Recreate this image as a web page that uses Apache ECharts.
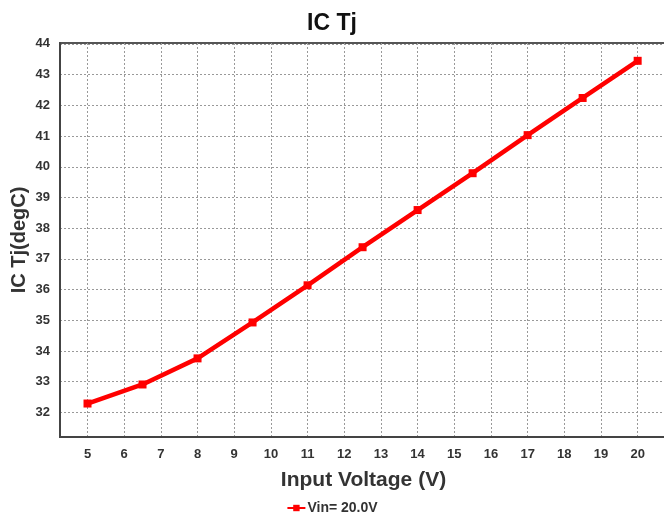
<!DOCTYPE html>
<html><head><meta charset="utf-8">
<script src="https://cdn.jsdelivr.net/npm/echarts@6/dist/echarts.min.js"></script>
<style>html,body{margin:0;padding:0;background:#fff}#c{width:664px;height:513px}</style>
</head><body><div id="c"></div>
<script>
const xValues = [5, 6.5, 8, 9.5, 11, 12.5, 14, 15.5, 17, 18.5, 20];
const tjValues = [32.29, 32.91, 33.76, 34.93, 36.14, 37.38, 38.59, 39.79, 41.03, 42.24, 43.45];
const xTicks = [5,6,7,8,9,10,11,12,13,14,15,16,17,18,19,20];
const yTicks = [32,33,34,35,36,37,38,39,40,41,42,43,44];
const seriesName = 'Vin= 20.0V';

const chart = echarts.init(document.getElementById('c'));
const font = 'Liberation Sans, Arial, sans-serif';
chart.setOption({
  animation: false,
  title: { text: 'IC Tj', left: 'center', top: 7,
    textStyle: { fontFamily: font, fontSize: 23, fontWeight: 'bold', color: '#111' } },
  grid: { left: 60, right: -3, top: 43, bottom: 76, outerBoundsMode: 'none', containLabel: false,
    show: true, borderColor: '#555', borderWidth: 2 },
  legend: { top: 496, left: 'center', itemWidth: 18, itemHeight: 8, itemGap: 4,
    textStyle: { fontFamily: font, fontSize: 14, fontWeight: 'bold', color: '#333', padding: [0, 0, 0, -3] },
    data: [seriesName] },
  xAxis: {
    type: 'value', min: 4.25, max: 20.8,
    name: 'Input Voltage (V)', nameLocation: 'middle', nameGap: 33,
    nameTextStyle: { fontFamily: font, fontSize: 21, fontWeight: 'bold', color: '#333' },
    axisLine: { show: true, lineStyle: { color: '#444', width: 2 } },
    axisTick: { show: false, customValues: xTicks },
    axisLabel: { customValues: xTicks, margin: 11, fontFamily: font, fontSize: 13, fontWeight: 'bold', color: '#333' },
    splitLine: { show: true, lineStyle: { color: '#999', type: [2, 2], width: 1 } }
  },
  yAxis: {
    type: 'value', min: 31.2, max: 44.03,
    name: 'IC Tj(degC)', nameLocation: 'middle', nameGap: 31, nameMoveOverlap: false,
    nameTextStyle: { fontFamily: font, fontSize: 20, fontWeight: 'bold', color: '#333' },
    axisLine: { show: true, lineStyle: { color: '#444', width: 2 } },
    axisTick: { show: false, customValues: yTicks },
    axisLabel: { customValues: yTicks, margin: 10, fontFamily: font, fontSize: 13, fontWeight: 'bold', color: '#333' },
    splitLine: { show: true, lineStyle: { color: '#999', type: [2, 2], width: 1 } }
  },
  series: [{
    name: seriesName, type: 'line',
    data: xValues.map((x, i) => [x, tjValues[i]]),
    symbol: 'rect', symbolSize: 8, showSymbol: true,
    lineStyle: { color: '#ff0000', width: 4.5 },
    itemStyle: { color: '#ff0000' }
  }]
});
</script></body></html>
